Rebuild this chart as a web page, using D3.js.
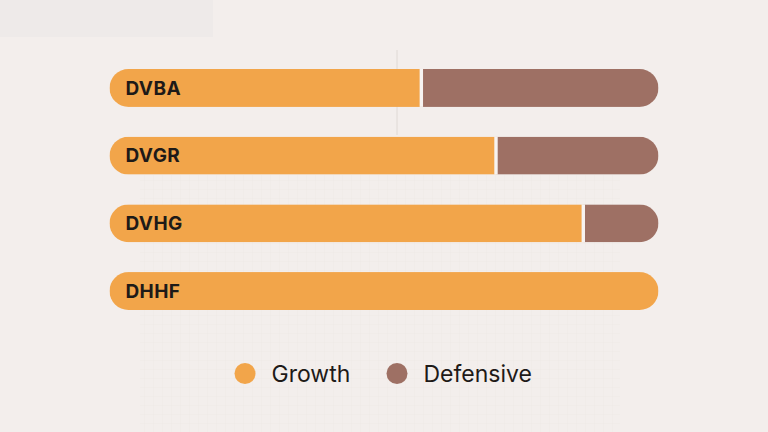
<!DOCTYPE html>
<html>
<head>
<meta charset="utf-8">
<script src="https://cdn.jsdelivr.net/npm/d3@7"></script>
<style>
  html, body { margin: 0; padding: 0; background: #f3eeec; }
  svg { display: block; }
</style>
</head>
<body>
<div id="chart"></div>
<script>
// values (percent of each fund)
var funds = ["DVBA", "DVGR", "DVHG", "DHHF"];
var growth = [56.8, 70.4, 86.3, 100];
var defensive = [43.2, 29.6, 13.7, 0];
var seriesNames = ["Growth", "Defensive"];
var seriesColors = ["#f2a54a", "#9e7064"];

var width = 768, height = 432;

var svg = d3.select("#chart").append("svg")
  .attr("width", width)
  .attr("height", height);

// paper background
svg.append("rect").attr("width", width).attr("height", height).attr("fill", "#f3eeec");
svg.append("rect").attr("x", 0).attr("y", 0).attr("width", 213).attr("height", 37)
  .attr("fill", "#eeeae9");

// faint grid paper in the lower middle
var defs = svg.append("defs");
var pat = defs.append("pattern").attr("id", "grid")
  .attr("width", 9).attr("height", 9).attr("patternUnits", "userSpaceOnUse");
pat.append("path").attr("d", "M9 0 L0 0 0 9").attr("fill", "none")
  .attr("stroke", "#e6dfdc").attr("stroke-width", 0.6);
svg.append("rect").attr("x", 140).attr("y", 175).attr("width", 480).attr("height", 257)
  .attr("fill", "url(#grid)").attr("opacity", 0.6);
svg.append("line").attr("x1", 397).attr("x2", 397).attr("y1", 50).attr("y2", 135)
  .attr("stroke", "#d9d3d1").attr("stroke-width", 0.8);

var x = d3.scaleLinear().domain([0, 100]).range([109.5, 658.5]);
var y = d3.scaleBand().domain(funds).range([69, 310]).paddingInner(0.44);

var rows = funds.map(function(f, i) {
  return {fund: f, parts: [
    {key: seriesNames[0], x0: 0, x1: growth[i]},
    {key: seriesNames[1], x0: growth[i], x1: growth[i] + defensive[i]}
  ]};
});

var bh = y.bandwidth();
var r = bh / 2;

rows.forEach(function(row) {
  var g = svg.append("g");
  var clipId = "clip-" + row.fund;
  defs.append("clipPath").attr("id", clipId)
    .append("rect")
    .attr("x", x(0)).attr("y", y(row.fund))
    .attr("width", x(100) - x(0)).attr("height", bh)
    .attr("rx", r).attr("ry", r);

  g.attr("clip-path", "url(#" + clipId + ")")
    .selectAll("rect")
    .data(row.parts.filter(function(p) { return p.x1 > p.x0; }))
    .enter()
    .append("rect")
    .attr("x", function(p) { return x(p.x0); })
    .attr("y", y(row.fund))
    .attr("width", function(p) { return x(p.x1) - x(p.x0); })
    .attr("height", bh)
    .attr("fill", function(p) { return seriesColors[seriesNames.indexOf(p.key)]; });

  // white gap between segments
  row.parts.slice(1).forEach(function(p) {
    if (p.x1 > p.x0) {
      svg.append("rect")
        .attr("x", x(p.x0) - 1.7).attr("y", y(row.fund))
        .attr("width", 3.4).attr("height", bh)
        .attr("fill", "#f7f3f1");
    }
  });

  svg.append("text")
    .attr("x", 125.5)
    .attr("y", y(row.fund) + bh / 2)
    .attr("dy", "0.36em")
    .attr("font-family", "Inter, 'Noto Sans', sans-serif")
    .attr("font-weight", 700)
    .attr("font-size", "19px")
    .attr("letter-spacing", "0.4px")
    .attr("fill", "#1e1a18")
    .text(row.fund);
});

// legend
var legendX = [245, 397];
var legend = svg.append("g");
seriesNames.forEach(function(name, i) {
  legend.append("circle")
    .attr("cx", legendX[i]).attr("cy", 373.5).attr("r", 10.5)
    .attr("fill", seriesColors[i]);
  legend.append("text")
    .attr("x", legendX[i] + 26.5)
    .attr("y", 373.5)
    .attr("dy", "0.36em")
    .attr("font-family", "Inter, 'Noto Sans', sans-serif")
    .attr("font-size", "23px")
    .attr("fill", "#1e1a18")
    .text(name);
});
</script>
</body>
</html>
